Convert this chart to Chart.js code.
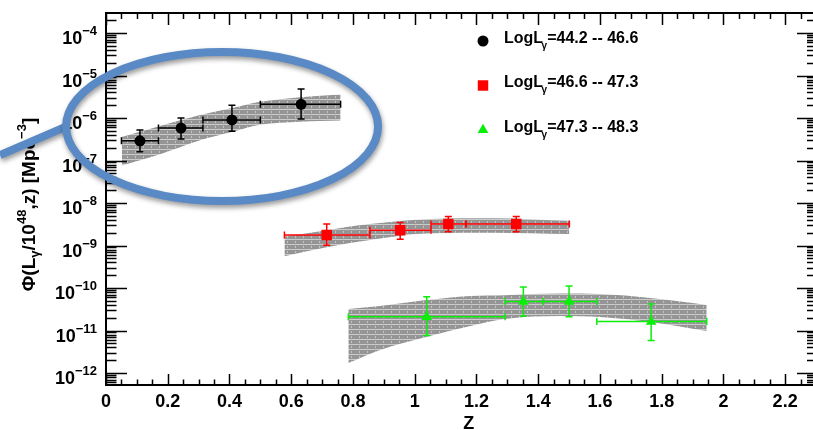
<!DOCTYPE html>
<html>
<head>
<meta charset="utf-8">
<script src="https://cdn.jsdelivr.net/npm/chart.js@4.4.0/dist/chart.umd.min.js"></script>
<style>
  html, body { margin: 0; padding: 0; background: #fff; overflow: hidden; }
  #wrap { width: 813px; height: 430px; position: relative; overflow: hidden; }
  #c { display: block; }
</style>
</head>
<body>
<div id="wrap"><canvas id="c" width="816" height="430"></canvas></div>
<script>
// ---- luminosity bins (legend text) ----
const binRanges = ['44.2 -- 46.6', '46.6 -- 47.3', '47.3 -- 48.3'];

// ---- bin 1: LogLγ = 44.2 -- 46.6 ----
const zBin1     = [0.110, 0.243, 0.408, 0.632];
const zLoBin1   = [0.050, 0.170, 0.314, 0.500];
const zHiBin1   = [0.170, 0.314, 0.500, 0.760];
const phiBin1   = [2.9e-7, 5.8e-7, 9.0e-7, 2.1e-6];
const phiLoBin1 = [1.6e-7, 3.2e-7, 4.9e-7, 9.5e-7];
const phiHiBin1 = [5.2e-7, 1.0e-6, 2.0e-6, 4.8e-6];

// ---- bin 2: LogLγ = 46.6 -- 47.3 ----
const zBin2     = [0.715, 0.953, 1.109, 1.329];
const zLoBin2   = [0.578, 0.855, 1.053, 1.166];
const zHiBin2   = [0.855, 1.053, 1.166, 1.501];
const phiBin2   = [1.77e-9, 2.3e-9, 3.2e-9, 3.2e-9];
const phiLoBin2 = [1.02e-9, 1.41e-9, 2.1e-9, 2.1e-9];
const phiHiBin2 = [3.2e-9, 3.5e-9, 4.8e-9, 4.8e-9];

// ---- bin 3: LogLγ = 47.3 -- 48.3 ----
const zBin3     = [1.039, 1.352, 1.500, 1.766];
const zLoBin3   = [0.785, 1.293, 1.417, 1.590];
const zHiBin3   = [1.293, 1.417, 1.590, 1.946];
const phiBin3   = [2.1e-11, 4.8e-11, 4.8e-11, 1.62e-11];
const phiLoBin3 = [7.6e-12, 2.2e-11, 2.1e-11, 5.8e-12];
const phiHiBin3 = [6.25e-11, 1.05e-10, 1.12e-10, 4.2e-11];

// ---- model uncertainty bands (edges sampled along z) ----
const bandZ1  = [0.051, 0.175, 0.305, 0.413, 0.499, 0.629, 0.760];
const bandHi1 = [3.6e-7, 6.5e-7, 1.17e-6, 1.74e-6, 2.4e-6, 3.1e-6, 3.6e-6];
const bandLo1 = [7.6e-8, 1.4e-7, 3.0e-7, 4.8e-7, 6.9e-7, 8.2e-7, 8.7e-7];

const bandZ2  = [0.578, 0.715, 0.855, 1.053, 1.255, 1.501];
const bandHi2 = [1.62e-9, 2.3e-9, 3.2e-9, 4.2e-9, 4.4e-9, 3.8e-9];
const bandLo2 = [5.6e-10, 9.1e-10, 1.35e-9, 1.95e-9, 2.0e-9, 1.86e-9];

const bandZ3  = [0.785, 0.888, 1.037, 1.180, 1.293, 1.471, 1.601, 1.763, 1.946];
const bandHi3 = [3.2e-11, 3.77e-11, 5.2e-11, 6.5e-11, 6.8e-11, 7.4e-11, 7.2e-11, 5.8e-11, 4.0e-11];
const bandLo3 = [1.72e-12, 3.5e-12, 7.0e-12, 1.28e-11, 1.87e-11, 2.2e-11, 2.08e-11, 1.59e-11, 9.7e-12];

// ---- axis decades labelled on the y axis ----
const yTickExponents = [-4, -5, -6, -7, -8, -9, -10, -11, -12];

const FONT = '"Liberation Sans", Arial, Helvetica, sans-serif';
const GREEN = '#0aee0a';

function pts(xs, ys) { return xs.map((v, i) => ({ x: v, y: ys[i] })); }

// grey hatched fill used for the bands
function hatchPattern() {
  const c = document.createElement('canvas');
  c.width = 8; c.height = 5;
  const g = c.getContext('2d');
  g.fillStyle = '#959595'; g.fillRect(0, 0, 8, 5);
  g.fillStyle = '#cbcbcb'; g.fillRect(0, 4, 8, 1);
  g.fillStyle = '#c4c4c4'; g.fillRect(7, 1, 1, 2);
  return g.createPattern(c, 'repeat');
}
const hatch = hatchPattern();

function bandPair(zs, lo, hi) {
  const common = { type: 'line', pointRadius: 0, borderWidth: 0, borderColor: 'rgba(0,0,0,0)',
                   cubicInterpolationMode: 'monotone', order: 2 };
  return [
    Object.assign({ data: pts(zs, lo), fill: false }, common),
    Object.assign({ data: pts(zs, hi), fill: '-1', backgroundColor: hatch }, common)
  ];
}

function pointSet(zs, ys, style, radius, color, err) {
  return { type: 'line', showLine: false, data: pts(zs, ys), pointStyle: style, pointRadius: radius,
           pointHoverRadius: radius, pointBackgroundColor: color, pointBorderColor: color,
           pointBorderWidth: 0, order: 0, err: err };
}

const series = [
  { z: zBin1, lo: zLoBin1, hi: zHiBin1, phi: phiBin1, pLo: phiLoBin1, pHi: phiHiBin1, color: '#000000', style: 'circle', r: 5.5 },
  { z: zBin2, lo: zLoBin2, hi: zHiBin2, phi: phiBin2, pLo: phiLoBin2, pHi: phiHiBin2, color: '#ff0000', style: 'rect', r: 7.4 },
  { z: zBin3, lo: zLoBin3, hi: zHiBin3, phi: phiBin3, pLo: phiLoBin3, pHi: phiHiBin3, color: GREEN, style: 'triangle', r: 6.2 }
];

const datasets = [
  ...bandPair(bandZ1, bandLo1, bandHi1),
  ...bandPair(bandZ2, bandLo2, bandHi2),
  ...bandPair(bandZ3, bandLo3, bandHi3),
  ...series.map(s => pointSet(s.z, s.phi, s.style, s.r, s.color, s))
];

// ---- drawing helpers ----
function drawErrors(chart, s) {
  const { ctx, scales: { x, y } } = chart;
  const cap = 3.5;
  ctx.save();
  ctx.strokeStyle = s.color; ctx.lineWidth = 1.5;
  for (let i = 0; i < s.z.length; i++) {
    const px = x.getPixelForValue(s.z[i]), py = y.getPixelForValue(s.phi[i]);
    const xl = x.getPixelForValue(s.lo[i]), xr = x.getPixelForValue(s.hi[i]);
    const yt = y.getPixelForValue(s.pHi[i]), yb = y.getPixelForValue(s.pLo[i]);
    ctx.beginPath();
    ctx.moveTo(xl, py); ctx.lineTo(xr, py);
    ctx.moveTo(xl, py - cap); ctx.lineTo(xl, py + cap);
    ctx.moveTo(xr, py - cap); ctx.lineTo(xr, py + cap);
    ctx.moveTo(px, yt); ctx.lineTo(px, yb);
    ctx.moveTo(px - cap, yt); ctx.lineTo(px + cap, yt);
    ctx.moveTo(px - cap, yb); ctx.lineTo(px + cap, yb);
    ctx.stroke();
  }
  ctx.restore();
}

function drawFrame(chart) {
  const { ctx, chartArea: { left, right, top, bottom }, scales: { x, y } } = chart;
  ctx.save();
  ctx.strokeStyle = '#000';
  ctx.lineWidth = 2;
  ctx.strokeRect(left, top, right - left, bottom - top);
  ctx.lineWidth = 1.5;
  ctx.beginPath();
  // z ticks every 0.05, long ones every 0.2, pointing inward
  for (let i = 0; i * 0.05 <= x.max + 1e-9; i++) {
    const px = Math.round(x.getPixelForValue(i * 0.05)) + 0.5;
    const major = i % 4 === 0;
    ctx.moveTo(px, bottom); ctx.lineTo(px, bottom - (major ? 11 : 5.5));
    ctx.moveTo(px, top); ctx.lineTo(px, top + (major ? 12 : 6));
  }
  // logarithmic ticks: decades long, 2..9 short
  for (let e = -13; e <= -3; e++) {
    for (let k = 1; k <= 9; k++) {
      const v = k * Math.pow(10, e);
      if (v < y.min || v > y.max) continue;
      const py = Math.round(y.getPixelForValue(v)) + 0.5;
      const major = k === 1;
      ctx.moveTo(left, py); ctx.lineTo(left + (major ? 21 : 10.5), py);
      ctx.moveTo(right, py); ctx.lineTo(right - (major ? 19 : 9), py);
    }
  }
  ctx.stroke();
  ctx.restore();
}

function drawYLabels(chart) {
  const { ctx, scales: { y } } = chart;
  ctx.save();
  ctx.fillStyle = '#000';
  ctx.textAlign = 'left';
  ctx.textBaseline = 'alphabetic';
  const xr = 97;
  for (const e of yTickExponents) {
    const py = y.getPixelForValue(Math.pow(10, e));
    const sup = '\u2212' + Math.abs(e);
    ctx.font = 'bold 13px ' + FONT;
    const sw = ctx.measureText(sup).width;
    ctx.fillText(sup, xr - sw, py + 2);
    ctx.font = 'bold 18px ' + FONT;
    const mw = ctx.measureText('10').width;
    ctx.fillText('10', xr - sw - mw, py + 11);
  }
  ctx.restore();
}

// runs of text with optional sub/superscript offsets
function drawRuns(ctx, runs, x0, y0, main, small) {
  let x = x0;
  for (const r of runs) {
    ctx.font = 'bold ' + (r.k === 'm' ? main : small) + 'px ' + FONT;
    const dy = r.k === 'sub' ? r.dy || 4 : r.k === 'sup' ? -(r.dy || 8) : 0;
    ctx.fillText(r.t, x + (r.dx || 0), y0 + dy);
    x += ctx.measureText(r.t).width + (r.dx || 0) + (r.after || 0);
  }
  return x;
}
function runsWidth(ctx, runs, main, small) {
  let w = 0;
  for (const r of runs) {
    ctx.font = 'bold ' + (r.k === 'm' ? main : small) + 'px ' + FONT;
    w += ctx.measureText(r.t).width + (r.dx || 0) + (r.after || 0);
  }
  return w;
}

function drawTitles(chart) {
  const { ctx, scales: { x } } = chart;
  ctx.save();
  ctx.fillStyle = '#000';
  ctx.textBaseline = 'alphabetic';
  // y title
  const runs = [
    { t: 'Φ(L', k: 'm' }, { t: 'γ', k: 'sub', dy: 4 }, { t: '/10', k: 'm' }, { t: '48', k: 'sup', dy: 9 },
    { t: ',z) [Mpc', k: 'm' }, { t: '\u22123', k: 'sup', dy: 9 }, { t: ']', k: 'm' }
  ];
  const w = runsWidth(ctx, runs, 19, 13);
  ctx.save();
  ctx.translate(35, 204.5);
  ctx.rotate(-Math.PI / 2);
  ctx.textAlign = 'left';
  drawRuns(ctx, runs, -w / 2, 0, 19, 13);
  ctx.restore();
  // x title
  ctx.font = 'bold 18px ' + FONT;
  ctx.textAlign = 'center';
  ctx.fillText('Z', x.getPixelForValue(1.175), 429);
  ctx.restore();
}

function drawMarker(ctx, style, cx, cy, r, color) {
  ctx.fillStyle = color;
  ctx.beginPath();
  if (style === 'circle') {
    ctx.arc(cx, cy, r, 0, Math.PI * 2);
  } else if (style === 'rect') {
    const h = r * Math.SQRT1_2;
    ctx.rect(cx - h, cy - h, 2 * h, 2 * h);
  } else {
    ctx.moveTo(cx, cy - r);
    ctx.lineTo(cx + r * Math.sin(2 * Math.PI / 3), cy - r * Math.cos(2 * Math.PI / 3));
    ctx.lineTo(cx + r * Math.sin(4 * Math.PI / 3), cy - r * Math.cos(4 * Math.PI / 3));
    ctx.closePath();
  }
  ctx.fill();
}

function drawLegend(chart) {
  const { ctx } = chart;
  ctx.save();
  ctx.textAlign = 'left';
  ctx.textBaseline = 'alphabetic';
  series.forEach((s, i) => {
    const rowY = 42.5 + 44.5 * i;
    drawMarker(ctx, s.style, 483, rowY - 1.5, s.r, s.color);
    ctx.fillStyle = '#000';
    drawRuns(ctx, [
      { t: 'LogL', k: 'm', after: -1.5 }, { t: 'γ', k: 'sub', dy: 6 }, { t: '=' + binRanges[i], k: 'm' }
    ], 504, rowY, 16, 10);
  });
  ctx.restore();
}

function drawCallout(chart) {
  const { ctx, scales: { x, y } } = chart;
  const cx = x.getPixelForValue(0.376), cy = y.getPixelForValue(6.3e-7);
  const rx = 156, ry = 74.5;
  ctx.save();
  ctx.strokeStyle = '#5a8ac6';
  ctx.lineWidth = 8;
  ctx.shadowColor = 'rgba(0,0,0,0.4)';
  ctx.shadowBlur = 5;
  ctx.shadowOffsetX = 1;
  ctx.shadowOffsetY = 3;
  ctx.beginPath();
  ctx.moveTo(0, 155);
  ctx.lineTo(cx - rx, cy);
  ctx.stroke();
  ctx.beginPath();
  ctx.ellipse(cx, cy, rx, ry, 0, 0, Math.PI * 2);
  ctx.stroke();
  ctx.restore();
}

const overlay = {
  id: 'overlay',
  beforeDatasetDraw(chart, args) {
    const ds = chart.data.datasets[args.index];
    if (ds.err) drawErrors(chart, ds.err);
  },
  afterDraw(chart) {
    drawFrame(chart);
    drawYLabels(chart);
    drawTitles(chart);
    drawLegend(chart);
    drawCallout(chart);
  }
};

new Chart(document.getElementById('c'), {
  type: 'line',
  data: { datasets },
  plugins: [overlay],
  options: {
    responsive: false,
    animation: false,
    events: [],
    layout: { autoPadding: false, padding: { top: 13, right: 0, left: 0, bottom: 0 } },
    plugins: { legend: { display: false }, tooltip: { enabled: false }, title: { display: false } },
    scales: {
      x: {
        type: 'linear', min: 0, max: 2.3,
        afterFit: s => { s.height = 45; s.paddingLeft = 0; s.paddingRight = 0; },
        grid: { display: false, drawTicks: false },
        border: { display: false },
        ticks: {
          stepSize: 0.2, includeBounds: false, autoSkip: false, maxRotation: 0, padding: 6,
          color: '#000', font: { family: FONT, size: 18, weight: 'bold' },
          callback: v => String(+v.toFixed(1))
        }
      },
      y: {
        type: 'logarithmic', min: 5.22e-13, max: 2.96e-4,
        afterFit: s => { s.width = 106; s.paddingTop = 0; s.paddingBottom = 0; },
        grid: { display: false, drawTicks: false },
        border: { display: false },
        ticks: { display: false }
      }
    }
  }
});
</script>
</body>
</html>
